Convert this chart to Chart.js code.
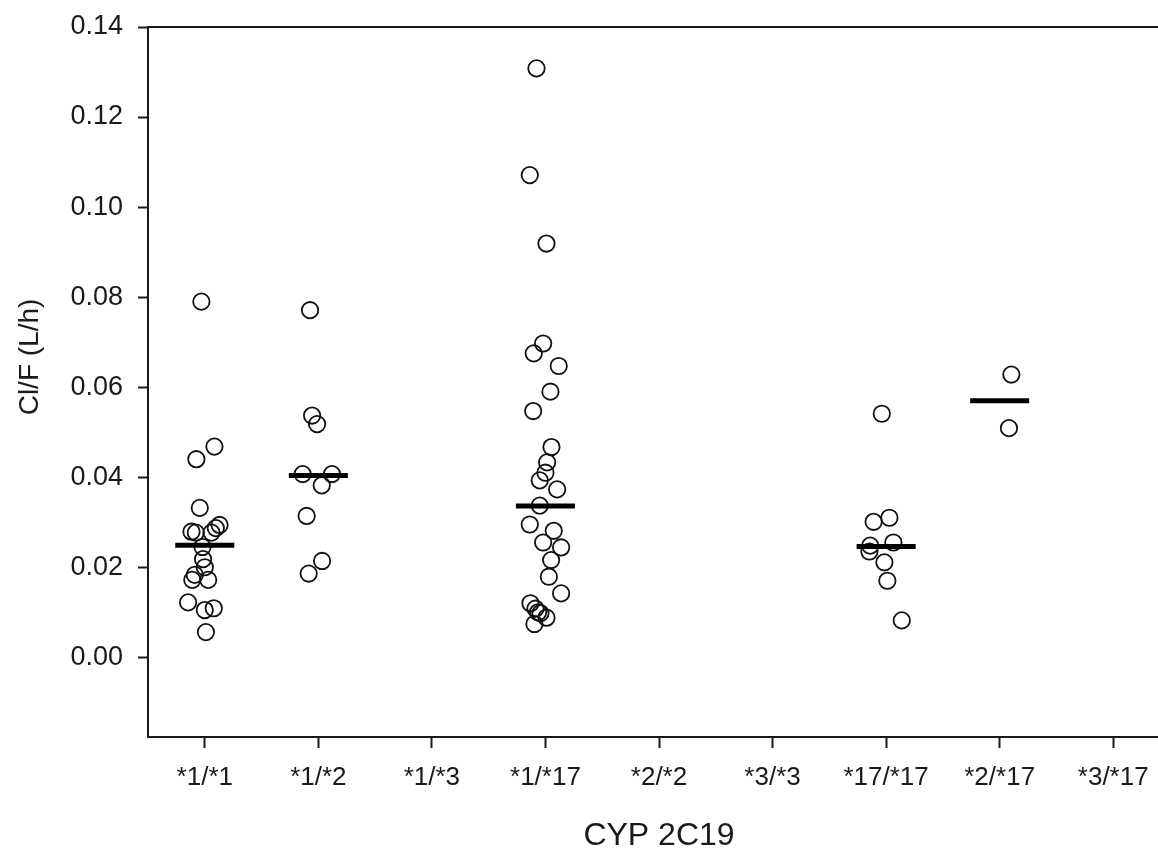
<!DOCTYPE html>
<html>
<head>
<meta charset="utf-8">
<script src="https://cdn.jsdelivr.net/npm/chart.js@4"></script>
<style>
  html, body { margin: 0; padding: 0; background: #fff; overflow: hidden; }
  #wrap { width: 1175px; height: 855px; }
</style>
</head>
<body>
<div id="wrap"><canvas id="chart" width="1175" height="855"></canvas></div>
<script>
// genotype groups on the x axis
const genotypes = ['*1/*1', '*1/*2', '*1/*3', '*1/*17', '*2/*2', '*3/*3', '*17/*17', '*2/*17', '*3/*17'];
const yTicks = [0, 0.02, 0.04, 0.06, 0.08, 0.10, 0.12, 0.14];

// Cl/F values (L/h) and horizontal jitter, per group
const g1_1Val = [0.0790, 0.0468, 0.0440, 0.0332, 0.0294, 0.0287, 0.0277, 0.0279, 0.0277, 0.0245, 0.0218, 0.0200, 0.0183, 0.0172, 0.0172, 0.0122, 0.0105, 0.0109, 0.0056];
const g1_1Jit = [-0.03, 0.085, -0.074, -0.044, 0.13, 0.097, 0.059, -0.117, -0.079, -0.02, -0.015, 0, -0.088, 0.03, -0.11, -0.147, 0, 0.079, 0.01];

const g1_2Val = [0.0771, 0.0537, 0.0518, 0.0407, 0.0407, 0.0382, 0.0314, 0.0214, 0.0186];
const g1_2Jit = [-0.073, -0.055, -0.011, -0.138, 0.12, 0.03, -0.103, 0.033, -0.085];

const g1_17Val = [0.1308, 0.1071, 0.0919, 0.0697, 0.0675, 0.0647, 0.0590, 0.0547, 0.0467, 0.0433, 0.0410, 0.0393, 0.0373, 0.0337, 0.0295, 0.0281, 0.0255, 0.0244, 0.0216, 0.0179, 0.0142, 0.0120, 0.0108, 0.0100, 0.0098, 0.0088, 0.0074];
const g1_17Jit = [-0.079, -0.138, 0.009, -0.02, -0.103, 0.117, 0.044, -0.108, 0.053, 0.015, 0, -0.05, 0.103, -0.05, -0.138, 0.073, -0.02, 0.138, 0.05, 0.03, 0.138, -0.132, -0.088, -0.065, -0.044, 0.009, -0.097];

const g17_17Val = [0.0541, 0.0310, 0.0301, 0.0255, 0.0248, 0.0235, 0.0211, 0.0170, 0.0082];
const g17_17Jit = [-0.038, 0.029, -0.11, 0.064, -0.14, -0.147, -0.015, 0.011, 0.138];

const g2_17Val = [0.0628, 0.0509];
const g2_17Jit = [0.103, 0.082];

// group medians (null = no subjects)
const medians = [0.0249, 0.0404, null, 0.0336, null, null, 0.0246, 0.0570, null];

const groups = [
  [0, g1_1Val, g1_1Jit],
  [1, g1_2Val, g1_2Jit],
  [3, g1_17Val, g1_17Jit],
  [6, g17_17Val, g17_17Jit],
  [7, g2_17Val, g2_17Jit]
];

const points = [];
groups.forEach(([idx, vals, jit]) => {
  vals.forEach((v, i) => points.push({ x: idx + jit[i], y: v }));
});

const medianSets = [];
medians.forEach((m, i) => {
  if (m === null) return;
  medianSets.push({
    type: 'line',
    data: [{ x: i - 0.26, y: m }, { x: i + 0.26, y: m }],
    borderColor: '#000',
    borderWidth: 5,
    pointRadius: 0,
    order: 0
  });
});

const FONT = '"Liberation Sans", Arial, sans-serif';
const ink = '#1a1a1a';

// top frame line + y axis title (title sits a bit above the plot middle in the original)
const frame = {
  id: 'frame',
  afterDraw(chart) {
    const ctx = chart.ctx;
    const a = chart.chartArea;
    ctx.save();
    ctx.strokeStyle = ink;
    ctx.lineWidth = 2;
    ctx.beginPath();
    ctx.moveTo(a.left - 1, a.top);
    ctx.lineTo(a.right, a.top);
    ctx.stroke();

    ctx.translate(30, 357);
    ctx.rotate(-Math.PI / 2);
    ctx.font = '28px ' + FONT;
    ctx.fillStyle = ink;
    ctx.textAlign = 'center';
    ctx.textBaseline = 'middle';
    ctx.fillText('Cl/F (L/h)', 0, 0);
    ctx.restore();
  }
};

new Chart(document.getElementById('chart'), {
  type: 'scatter',
  data: {
    datasets: medianSets.concat([{
      data: points,
      pointStyle: 'circle',
      pointRadius: 8.2,
      pointBorderWidth: 1.8,
      pointBorderColor: '#111',
      pointBackgroundColor: 'rgba(0,0,0,0)',
      order: 1
    }])
  },
  options: {
    responsive: false,
    devicePixelRatio: 1,
    animation: false,
    layout: { autoPadding: false, padding: { top: 27, right: 5, left: 0, bottom: 0 } },
    plugins: { legend: { display: false }, tooltip: { enabled: false } },
    scales: {
      x: {
        type: 'linear',
        min: -0.5,
        max: 8.5,
        afterBuildTicks: s => { s.ticks = genotypes.map((g, i) => ({ value: i })); },
        afterFit: s => { s.height = 118; s.paddingLeft = 0; s.paddingRight = 0; },
        ticks: {
          callback: v => genotypes[v],
          font: { family: FONT, size: 26 },
          color: ink,
          padding: 14,
          maxRotation: 0,
          autoSkip: false
        },
        grid: { drawOnChartArea: false, drawTicks: true, tickLength: 11, tickColor: ink, tickWidth: 2 },
        border: { color: ink, width: 2 },
        title: { display: true, text: 'CYP 2C19', font: { family: FONT, size: 32 }, color: ink, padding: { top: 0, bottom: 0 } }
      },
      y: {
        min: -0.0177,
        max: 0.14,
        afterBuildTicks: s => { s.ticks = yTicks.map(v => ({ value: v })); },
        afterFit: s => { s.width = 148; s.paddingTop = 0; s.paddingBottom = 0; },
        ticks: {
          callback: v => v.toFixed(2),
          font: { family: FONT, size: 27 },
          color: ink,
          padding: 15
        },
        grid: { drawOnChartArea: false, drawTicks: true, tickLength: 10, tickColor: ink, tickWidth: 2 },
        border: { color: ink, width: 2 },
        title: { display: false }
      }
    }
  },
  plugins: [frame]
});
</script>
</body>
</html>
